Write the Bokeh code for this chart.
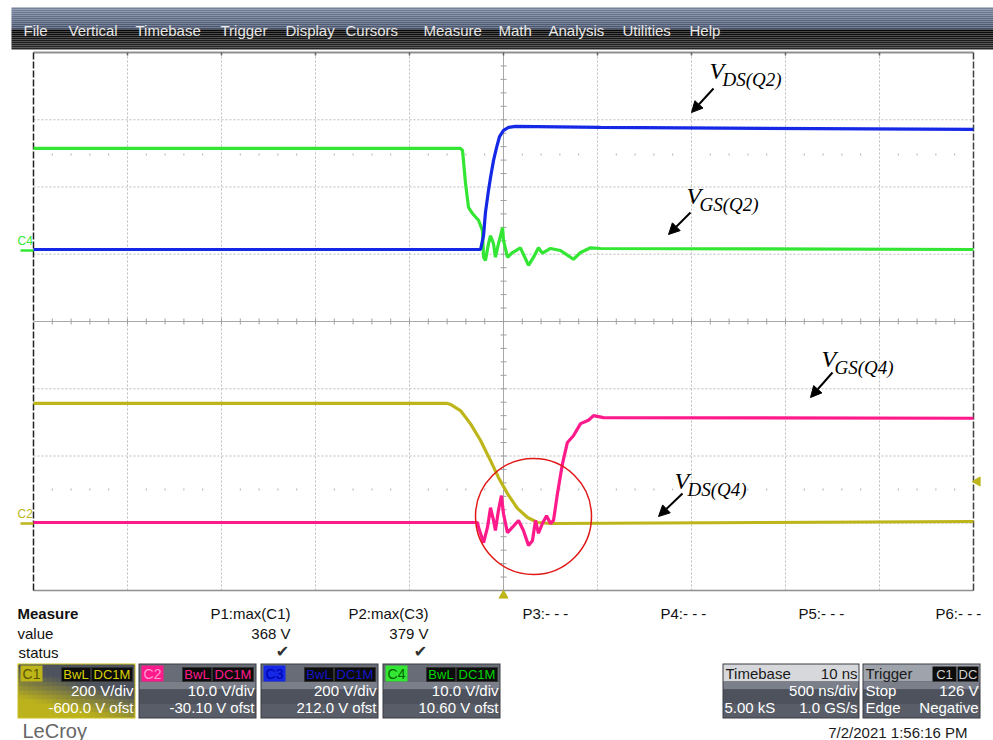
import numpy as np
from bokeh.plotting import figure
from bokeh.models import Range1d, Label, Arrow, NormalHead
from bokeh.embed import file_html
from bokeh.resources import INLINE

# ---------------- data ----------------
# time in ns (500 ns/div, trigger at t = 0), voltages in V
t_c1 = [-2500, -298, -282, -229, -176, -122, -69, -27, 21, 74, 128, 181, 250, 2500]
v_c1 = [354, 354, 351, 333, 294, 244, 184, 134, 86, 42, 15, 0, -3, 3]

t_c2 = [-2500, -138, -133, -106, -85, -69, -53, -43, -27, -11, 0, 21, 48, 80, 106, 133,
        154, 170, 186, 207, 229, 250, 266, 287, 314, 340, 372, 410, 452, 479, 532, 2500]
v_c2 = [0, 0, -0.7, -3.0, -0.7, 2.2, 0.3, -1.2, 1.8, 4.0, 1.3, -1.5, -0.7, 0.3, -1.2, -3.4,
        -2.7, 0.3, -1.6, -0.15, 1.0, -0.15, 0.3, 4.3, 8.8, 11.9, 12.9, 14.7, 15.2, 15.9, 15.6, 15.5]

t_c3 = [-2500, -122, -106, -96, -80, -69, -53, -37, -21, 0, 27, 64, 516, 2500]
v_c3 = [3, 3, 45, 113, 178, 217, 268, 306, 339, 357, 366, 369, 366, 360]

t_c4 = [-2500, -229, -218, -202, -186, -165, -133, -112, -106, -96, -80, -69, -53, -43, -27, -5,
        0, 21, 48, 90, 133, 160, 186, 207, 250, 303, 372, 410, 463, 516, 2500]
v_c4 = [15.2, 15.2, 14.9, 10.0, 6.4, 5.5, 4.5, 3.0, -1.0, -1.5, 1.0, 2.2, 1.0, -1.0, 1.0, 3.4,
        1.5, -1.0, -0.3, 0.4, -2.2, -1.0, 0.4, -0.4, 0.3, 0.0, -1.3, -0.3, 0.4, 0.3, 0.15]

channels = ["C1", "C2", "C3", "C4"]
volts_per_div = [200, 10, 200, 10]
vdiv_labels = ["200 V/div", "10.0 V/div", "200 V/div", "10.0 V/div"]
offset_labels = ["-600.0 V ofst", "-30.10 V ofst", "212.0 V ofst", "10.60 V ofst"]
time_per_div = 500
menu_items = ["File", "Vertical", "Timebase", "Trigger", "Display", "Cursors", "Measure",
              "Math", "Analysis", "Utilities", "Help"]
param_names = ["P1:max(C1)", "P2:max(C3)", "P3:- - -", "P4:- - -", "P5:- - -", "P6:- - -"]
param_values = ["368 V", "379 V"]
annotations = [("DS(Q2)", "C3"), ("GS(Q2)", "C4"), ("GS(Q4)", "C2"), ("DS(Q4)", "C1")]

# ---------------- layout / style ----------------
W, H = 993, 740
X0, Y0 = 0, 0
GL, GR, GT, GB = 33, 973, 52, 590
NXD, NYD = 10, 8
dx = (GR - GL) / NXD
dy = (GB - GT) / NYD
XC = (GL + GR) / 2
ch_colors = ["#bdb51a", "#ff1a8c", "#1428e6", "#33e633"]
ch_zero_y = [522, 522, 250, 250]
SANS = "Liberation Sans"
SERIF = "Liberation Serif"

p = figure(width=W, height=H, x_range=Range1d(X0, X0 + W), y_range=Range1d(Y0 + H, Y0),
           output_backend="svg", toolbar_location=None, x_axis_location=None,
           y_axis_location=None, min_border=0, outline_line_color=None,
           background_fill_color="white", border_fill_color="white")
p.grid.visible = False

p.extra_x_ranges = {"t": Range1d((X0 - XC) / dx * time_per_div, (X0 + W - XC) / dx * time_per_div)}
p.extra_y_ranges = {name: Range1d((z - (Y0 + H)) / dy * vd, (z - Y0) / dy * vd)
                    for name, vd, z in zip(channels, volts_per_div, ch_zero_y)}


def h2r(h):
    return tuple(int(h[i:i + 2], 16) for i in (1, 3, 5))


def mix(a, b, f):
    a, b = h2r(a), h2r(b)
    f = max(0.0, min(1.0, f))
    return "#%02x%02x%02x" % tuple(int(round(a[i] + (b[i] - a[i]) * f)) for i in range(3))


def lab(x, y, s, size=15, color="black", font=SANS, align="left", style="normal", baseline="middle"):
    p.add_layout(Label(x=x, y=y, text=s, text_font=font, text_font_size=f"{size}px",
                       text_color=color, text_align=align, text_baseline=baseline,
                       text_font_style=style))


# ---------------- menu bar ----------------
n = 21
ys = np.linspace(7, 49, n + 1)
cols = []
for i in range(n):
    yy = ys[i]
    if yy < 28:
        cols.append(mix("#74829b", "#44506a", (yy - 7) / 21))
    else:
        cols.append(mix("#050505", "#2c2c2c", (yy - 28) / 21))
p.quad(left=11, right=X0 + W, top=ys[:-1], bottom=ys[1:], fill_color=cols, line_color=None)
menu_x = [23, 68, 135, 220, 285, 345, 423, 498, 548, 622, 689]
for mx, m in zip(menu_x, menu_items):
    lab(mx, 30, m, 15, "#e8e8e8")

# ---------------- graticule ----------------
for k in range(1, NXD):
    x = GL + k * dx
    if k == NXD // 2:
        continue
    p.segment(x0=x, y0=GT, x1=x, y1=GB, line_color="#bdbdbd", line_dash="2 2", line_width=1)
for k in range(1, NYD):
    y = GT + k * dy
    if k == NYD // 2:
        continue
    p.segment(x0=GL, y0=y, x1=GR, y1=y, line_color="#bdbdbd", line_dash="2 2", line_width=1)
yc = GT + NYD / 2 * dy
p.segment(x0=XC, y0=GT, x1=XC, y1=GB, line_color="#a8a8a8", line_width=1)
p.segment(x0=GL, y0=yc, x1=GR, y1=yc, line_color="#a8a8a8", line_width=1)
ty = [GT + i * dy / 5 for i in range(1, NYD * 5)]
p.segment(x0=XC - 3, y0=ty, x1=XC + 3, y1=ty, line_color="#a0a0a0")
tx = [GL + i * dx / 5 for i in range(1, NXD * 5)]
p.segment(x0=tx, y0=yc - 3, x1=tx, y1=yc + 3, line_color="#a0a0a0")
dots = [GL + i * dx / 5 for i in range(1, NXD * 5) if i % 5]
for yd in (154, 489):
    p.segment(x0=dots, y0=yd - 1, x1=dots, y1=yd + 1, line_color="#b0b0b0")
# frame
p.segment(x0=GL, y0=GT, x1=GR, y1=GT, line_color="#909090", line_width=2)
p.segment(x0=GL, y0=GB, x1=GR, y1=GB, line_color="#909090", line_width=1.5)
p.segment(x0=GL, y0=GT, x1=GL, y1=GB, line_color="#202020", line_width=1.5, line_dash="7 2")
p.segment(x0=GR, y0=GT, x1=GR, y1=GB, line_color="#404040", line_width=1.5, line_dash="7 2")
gx = [GL + k * dx for k in range(1, NXD)]
p.segment(x0=gx, y0=GT, x1=gx, y1=GT + 3, line_color="#606060", line_width=1.5)

# channel ground markers
p.segment(x0=20, y0=250, x1=GL, y1=250, line_color=ch_colors[3], line_width=2.5)
lab(17, 240, "C4", 12, ch_colors[3])
p.segment(x0=20, y0=523, x1=GL, y1=523, line_color=ch_colors[0], line_width=2.5)
lab(17, 513, "C2", 12, ch_colors[0])
# trigger markers
p.scatter(x=[XC], y=[595], marker="triangle", size=9, fill_color=ch_colors[0], line_color=ch_colors[0])
p.scatter(x=[977], y=[481], marker="triangle", size=9, angle=np.pi / 2,
          fill_color=ch_colors[0], line_color=ch_colors[0])

# ---------------- traces ----------------
traces = {"C1": (t_c1, v_c1), "C2": (t_c2, v_c2), "C3": (t_c3, v_c3), "C4": (t_c4, v_c4)}
for name in ["C1", "C2", "C4", "C3"]:
    i = channels.index(name)
    t, v = traces[name]
    p.line(t, v, x_range_name="t", y_range_name=name, line_color=ch_colors[i], line_width=3.2)

# red circle
p.circle(x=[533], y=[516], radius=58, fill_color=None, line_color="#e01818", line_width=1.5)

# ---------------- annotations ----------------
ann_pos = [(709, 70, 713, 88, 691, 112), (686, 195, 690, 212, 668, 234),
           (821, 358, 832, 372, 810, 397), (674, 480, 682, 493, 658, 516)]
for (sub, ch), (vx, vy, x1, y1, x2, y2) in zip(annotations, ann_pos):
    lab(vx, vy, "V", 24, "black", SERIF, style="italic")
    lab(vx + 13, vy + 9, sub, 19, "black", SERIF, style="italic")
    p.add_layout(Arrow(end=NormalHead(size=11, fill_color="black", line_color="black"),
                       x_start=x1, y_start=y1, x_end=x2, y_end=y2,
                       line_color="black", line_width=2))

# ---------------- measure table ----------------
lab(17, 613, "Measure", 15, "#111", style="bold")
lab(17, 633, "value", 15, "#111")
lab(18, 652, "status", 15, "#111")
px = [290, 428]
for i, nm in enumerate(param_names):
    if i < 2:
        lab(px[i], 613, nm, 15, "#111", align="right")
        lab(px[i], 633, param_values[i], 15, "#111", align="right")
        lab(px[i] - 8, 651, "\u2714", 16, "#333", font="DejaVu Sans", align="center")
    else:
        lab([522, 660, 798, 935][i - 2], 613, nm, 15, "#111")

# ---------------- channel boxes ----------------
BT, BB, BW = 663, 718, 118
box_x = [17, 138, 260, 382]
chip_txt = ["#5a5500", "#ff9ccf", "#0000a8", "#006400"]
tag_txt = ["#d8d000", "#ff1a8c", "#1414c8", "#00d400"]


def box_bg(x0, x1, top_col):
    p.quad(left=x0, right=x1, top=BT, bottom=BB, fill_color="#3a3d44", line_color=None)
    p.quad(left=x0 + 1, right=x1 - 1, top=BT + 1, bottom=681, fill_color=top_col, line_color=None)
    p.quad(left=x0 + 1, right=x1 - 1, top=681, bottom=689, fill_color="#7a7f8a", line_color=None)
    p.quad(left=x0 + 1, right=x1 - 1, top=689, bottom=703, fill_color="#4d525d", line_color=None)
    p.quad(left=x0 + 1, right=x1 - 1, top=703, bottom=BB - 1, fill_color="#585d68", line_color=None)


for i, bx in enumerate(box_x):
    if i == 0:
        p.quad(left=bx, right=bx + BW, top=BT, bottom=BB, fill_color="#c8c020", line_color=None)
        nx, ny = 24, 12
        xs = np.linspace(bx + 1.5, bx + BW - 1.5, nx + 1)
        yy = np.linspace(BT + 1.5, BB - 1.5, ny + 1)
        L, R, T, B, C = [], [], [], [], []
        for a in range(nx):
            for b in range(ny):
                u = (a + 0.5) / nx
                v = (b + 0.5) / ny
                w = (v - 0.3) * 1.7 + (0.45 - u) * 0.9
                L.append(xs[a]); R.append(xs[a + 1]); T.append(yy[b]); B.append(yy[b + 1])
                C.append(mix("#4e535e", "#bcb21c", w))
        p.quad(left=L, right=R, top=T, bottom=B, fill_color=C, line_color=C)
    else:
        box_bg(bx, bx + BW, "#676c77")
    # chips
    p.quad(left=bx + 3, right=bx + 25, top=665, bottom=681, fill_color=ch_colors[i], line_color=None)
    lab(bx + 14, 673, channels[i], 14, chip_txt[i], align="center")
    p.quad(left=bx + 44, right=bx + 73, top=667, bottom=681, fill_color="#0c0c0c", line_color="#333")
    lab(bx + 58.5, 674, "BwL", 13, tag_txt[i], align="center")
    p.quad(left=bx + 74, right=bx + BW - 3, top=667, bottom=681, fill_color="#0c0c0c", line_color="#333")
    lab(bx + 74 + (BW - 77) / 2, 674, "DC1M", 13, tag_txt[i], align="center")
    lab(bx + BW - 2, 690, vdiv_labels[i], 15, "white", align="right")
    lab(bx + BW - 2, 707, offset_labels[i], 15, "white", align="right")

# timebase box
box_bg(722, 859, "#d6d8dc")
lab(725, 673, "Timebase", 15, "#1a1a1a")
lab(857, 673, "10 ns", 15, "#1a1a1a", align="right")
lab(857, 690, "500 ns/div", 15, "white", align="right")
lab(724, 707, "5.00 kS", 15, "white")
lab(857, 707, "1.0 GS/s", 15, "white", align="right")
# trigger box
box_bg(862, 980, "#9fa3ab")
lab(865, 673, "Trigger", 15, "#1a1a1a")
p.quad(left=932, right=956, top=666, bottom=681, fill_color="#0c0c0c", line_color=None)
lab(944, 674, "C1", 13, "#d0d0d0", align="center")
p.quad(left=957, right=978, top=666, bottom=681, fill_color="#0c0c0c", line_color=None)
lab(967.5, 674, "DC", 13, "#d0d0d0", align="center")
lab(865, 690, "Stop", 15, "white")
lab(978, 690, "126 V", 15, "white", align="right")
lab(865, 707, "Edge", 15, "white")
lab(978, 707, "Negative", 15, "white", align="right")

lab(967, 732, "7/2/2021 1:56:16 PM", 15, "#1a1a1a", align="right")
lab(22, 730, "LeCroy", 20, "#666666")

open("out.html", "w").write(file_html(p, INLINE))
